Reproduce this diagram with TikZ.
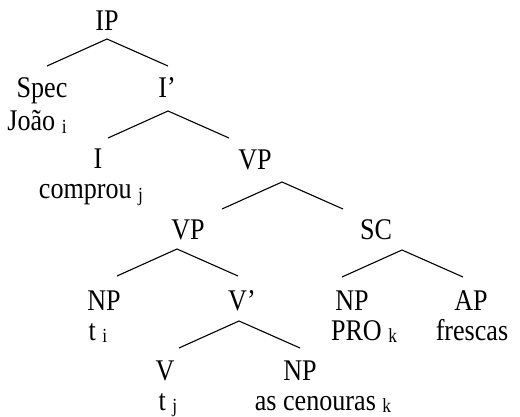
\documentclass[tikz,border=0pt]{standalone}
\usepackage{fontspec}
\setmainfont{Liberation Serif}[FakeStretch=0.87]
\usetikzlibrary{calc}

\newcommand{\coidx}[1]{\raisebox{-0.2ex}{\fontsize{20}{20}\selectfont #1}}

\tikzset{
    cat/.style={anchor=base,inner sep=0pt,font=\fontsize{30}{34}\selectfont},
    branch/.style={line width=1.1pt}
}

\begin{document}
\begin{tikzpicture}[x=1pt,y=-1pt]
                \useasboundingbox (0,0) rectangle (520,417);

                \node[cat] (ip) at (107,31) {IP};
                \node[cat] (spec) at (42,98) {Spec};
                \node[cat] (joao) at (37,131) {João \coidx{i}};
                \node[cat] (ibar) at (167,98) {I’};
                \node[cat] (infl) at (98,169) {I};
                \node[cat] (comprou) at (91,199) {comprou \coidx{j}};
                \node[cat] (vp) at (255,170) {VP};
                \node[cat] (vpa) at (188,240) {VP};
                \node[cat] (sc) at (376,240) {SC};
                \node[cat] (npt) at (104,310) {NP};
                \node[cat] (ti) at (98,340) {t \coidx{i}};
                \node[cat] (vbar) at (242,310) {V’};
                \node[cat] (nppro) at (352,310) {NP};
                \node[cat] (pro) at (364,340) {PRO \coidx{k}};
                \node[cat] (ap) at (471,310) {AP};
                \node[cat] (frescas) at (472,340) {frescas};
                \node[cat] (verb) at (165,380) {V};
                \node[cat] (tj) at (168,410) {t \coidx{j}};
                \node[cat] (npobj) at (300,380) {NP};
                \node[cat] (cenouras) at (323,410) {as cenouras \coidx{k}};

                \foreach \n/\x/\y in {ip/107/39, ibar/168/111, vp/282/182, vpa/177/249, sc/402/250, vbar/239/321}{
                    \coordinate (\n-top) at (\x,\y);
                    \coordinate (\n-l) at (\x-60,\y+27);
                    \coordinate (\n-r) at (\x+61,\y+27);
                    \draw[branch] (\n-l) -- (\n-top) -- (\n-r);
                }
            \end{tikzpicture}
\end{document}
